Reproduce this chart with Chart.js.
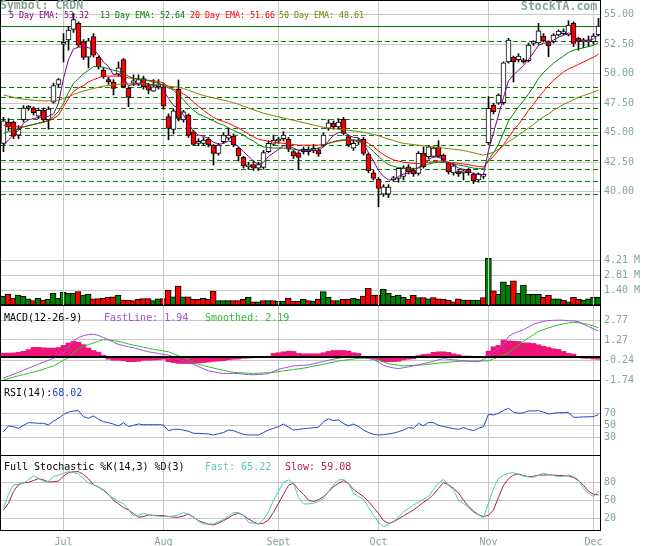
<!DOCTYPE html>
<html>
<head>
<meta charset="utf-8">
<title>CRDN</title>
<script src="https://cdn.jsdelivr.net/npm/chart.js"></script>
<style>
body { margin: 0; background: #fff; }
#wrap { position: relative; width: 655px; height: 546px; overflow: hidden; font-family: "DejaVu Sans Mono", monospace; }
#wrap canvas { position: absolute; left: 0; }
.ln { position: absolute; background: #000; z-index: 2; }
.t { position: absolute; white-space: pre; z-index: 3; font-size: 10px; line-height: 10px; }
</style>
</head>
<body>
<div id="wrap">
<canvas id="cVol" width="655" height="305" style="top:0"></canvas>
<canvas id="cPrice" width="655" height="305" style="top:0"></canvas>
<canvas id="cRsi" width="655" height="75" style="top:380px"></canvas>
<canvas id="cStoch" width="655" height="91" style="top:455px"></canvas>
<canvas id="cMacd" width="655" height="85" style="top:305px"></canvas>

<div class="ln" style="left:0;top:0;width:601px;height:1px"></div>
<div class="ln" style="left:0;top:0;width:1px;height:531px"></div>
<div class="ln" style="left:600px;top:0;width:1px;height:531px"></div>
<div class="ln" style="left:0;top:305px;width:601px;height:1px"></div>
<div class="ln" style="left:0;top:380px;width:601px;height:1px"></div>
<div class="ln" style="left:0;top:455px;width:601px;height:1px"></div>
<div class="ln" style="left:0;top:530px;width:601px;height:1px"></div>

<div class="t" style="left:0;top:-1px;font-size:11.5px;line-height:12px;font-weight:bold;color:#82a596">Symbol: CRDN</div>
<div class="t" style="left:521px;top:0;font-size:11.5px;line-height:12px;font-weight:bold;color:#82a596">StockTA.com</div>
<div class="t" style="left:9px;top:11px;font-size:8.3px;line-height:9px;color:#800080">5 Day EMA: 53.32</div>
<div class="t" style="left:100px;top:11px;font-size:8.3px;line-height:9px;color:#008000">13 Day EMA: 52.64</div>
<div class="t" style="left:190px;top:11px;font-size:8.3px;line-height:9px;color:#ff0000">20 Day EMA: 51.66</div>
<div class="t" style="left:279px;top:11px;font-size:8.3px;line-height:9px;color:#808000">50 Day EMA: 48.61</div>

<div class="t" style="left:4px;top:313px;color:#000">MACD(12-26-9)</div>
<div class="t" style="left:104px;top:313px;color:#a050e0">FastLine: 1.94</div>
<div class="t" style="left:205px;top:313px;color:#30c030">Smoothed: 2.19</div>
<div class="t" style="left:4px;top:388px;color:#000">RSI(14):<span style="color:#2046c8">68.02</span></div>
<div class="t" style="left:4px;top:462px;color:#000">Full Stochastic %K(14,3) %D(3)</div>
<div class="t" style="left:205px;top:462px;color:#55c8bb">Fast: 65.22</div>
<div class="t" style="left:285px;top:462px;color:#b01d55">Slow: 59.08</div>
</div>

<script>
// trading days, grouped by month
const monthNames = ['Jun', 'Jul', 'Aug', 'Sept', 'Oct', 'Nov', 'Dec'];
const monthDays = [12, 20, 23, 20, 22, 21, 2];

// daily prices
const opens = [44.1,45.9,45.9,44.8,46.1,47.1,47.1,46.4,46.9,46.1,
47.6,49.1,52.5,52.86,53.76,54.27,52.71,51.4,53.14,51.39,
50.31,49.5,49.3,49.97,51.2,48.76,49.2,49.1,49.6,49.0,
48.53,48.9,48.9,46.36,45.29,48.67,46.08,46.5,45.08,44.1,
44.1,44.44,43.96,43.25,44.24,44.55,44.72,43.68,42.92,42.1,
42.3,42.0,42.07,43.4,44.04,44.3,44.5,44.44,43.4,43.3,
43.39,43.4,43.5,43.53,43.96,45.37,45.8,45.5,46.14,44.67,
43.7,44.2,44.44,43.2,41.6,41.05,39.8,39.8,41.0,41.13,
41.3,42.12,41.84,41.56,43.25,42.97,43.0,43.8,43.1,42.4,
41.6,41.7,41.6,41.9,41.5,41.0,41.3,44.16,47.35,47.5,
47.54,51.0,51.39,51.2,51.1,51.1,52.57,52.62,53.2,52.71,
52.71,53.28,53.4,53.28,54.27,53.0,52.7,52.7,52.71,53.28];
const highs = [46.3,46.2,46.0,45.6,47.3,47.3,47.2,47.1,47.1,47.2,
49.2,49.6,53.4,54.0,55.1,54.4,52.9,53.0,53.4,51.5,
50.5,49.7,49.5,51.0,51.3,48.9,49.9,49.9,49.8,49.2,
49.5,49.5,49.2,46.6,47.0,49.47,46.9,46.6,45.2,44.5,
44.6,44.6,44.0,44.1,45.0,45.4,44.9,43.8,43.0,42.5,
42.6,42.5,43.5,44.3,44.8,44.6,45.1,44.6,43.5,43.4,
43.8,43.8,44.0,43.7,45.0,46.1,46.0,46.2,46.3,44.8,
44.4,44.5,44.6,43.3,41.8,41.2,40.6,40.6,41.3,41.8,
42.2,42.3,42.0,43.4,43.8,43.9,43.8,44.32,43.2,42.5,
42.4,41.9,41.9,42.0,41.6,41.6,41.5,48.05,47.5,48.3,
51.0,53.0,51.5,51.7,51.3,52.6,52.8,54.27,53.4,52.8,
53.4,53.7,53.8,54.5,54.4,53.1,53.0,53.2,53.4,54.7];
const lows = [43.4,45.2,44.5,44.5,45.9,46.9,46.5,46.2,45.9,45.3,
47.5,48.9,51.0,52.0,53.5,52.3,51.2,50.5,51.4,50.4,
49.6,49.1,48.2,49.8,48.8,47.2,49.0,49.0,48.7,48.3,
48.5,48.7,47.0,44.4,44.9,46.0,45.9,44.6,43.9,43.9,
43.9,43.8,42.26,43.1,44.1,44.4,43.8,42.6,42.0,41.9,
41.8,41.8,41.9,43.3,43.9,44.1,44.3,43.4,42.8,41.9,
43.2,43.1,43.3,43.0,43.8,45.2,45.3,45.3,44.8,43.8,
43.5,44.0,43.1,41.6,41.0,38.73,39.6,39.5,40.9,40.8,
41.0,41.5,41.3,41.4,42.0,42.8,42.9,42.9,42.5,41.5,
41.4,41.3,41.0,41.4,40.7,40.8,41.1,44.0,46.6,47.4,
47.4,50.9,49.3,51.0,50.9,51.0,52.4,52.5,52.7,51.44,
52.6,53.2,53.3,53.2,52.3,52.0,52.2,52.3,52.5,53.2];
const closes = [46.0,45.5,44.7,45.3,47.1,47.15,46.7,46.9,46.1,47.0,
49.0,49.5,52.65,53.7,54.6,52.43,51.39,52.8,51.58,50.59,
49.75,49.3,48.76,50.5,48.9,48.0,49.4,49.5,48.9,48.6,
48.9,49.0,47.26,45.37,46.86,46.22,46.78,44.8,44.02,44.2,
44.38,43.96,43.25,43.96,44.8,44.8,43.96,43.03,42.2,42.26,
42.0,42.3,43.31,44.1,44.38,44.44,44.8,43.6,43.03,42.9,
43.6,43.6,43.65,43.2,44.8,45.85,45.5,45.9,44.95,43.96,
44.1,44.4,43.25,41.78,41.13,40.29,40.42,40.4,41.13,41.98,
42.0,41.7,41.5,43.25,42.12,43.8,43.7,43.0,42.7,41.7,
42.2,41.5,41.75,41.6,40.93,41.5,41.35,47.07,46.78,48.2,
50.93,52.86,51.02,51.5,51.0,52.43,52.7,53.64,52.8,52.35,
53.28,53.62,53.55,54.13,52.57,52.75,52.8,52.75,53.2,54.04];

// volume in millions, and the colour of each volume bar (G up, R down)
const volumes = [0.85,1.0,0.63,0.94,0.85,0.57,0.41,0.63,0.47,0.53,
1.1,0.63,1.2,1.1,1.1,1.26,0.94,1.0,0.57,0.6,
0.63,0.72,0.78,0.91,0.47,0.47,0.41,0.53,0.6,0.6,
0.41,0.57,0.6,1.41,0.78,1.79,0.78,0.78,0.53,0.53,
0.63,0.53,1.32,0.41,0.41,0.41,0.41,0.41,0.53,0.72,
0.31,0.31,0.41,0.41,0.41,0.35,0.35,0.63,0.35,0.35,
0.53,0.41,0.35,0.53,1.26,0.72,0.41,0.41,0.53,0.53,
0.63,0.53,0.85,1.57,0.94,0.94,1.48,1.1,0.85,0.94,
0.72,0.53,0.9,0.69,0.69,0.59,0.69,0.59,0.53,0.44,
0.31,0.59,0.47,0.47,0.47,0.47,0.69,4.4,1.34,1.0,
2.18,1.87,2.28,1.09,1.84,1.0,1.0,1.0,0.72,0.9,
0.59,0.59,0.44,0.31,0.72,0.53,0.44,0.59,0.72,0.72];
const volDir = 'GRRGGGRGRGGGGGGRGGRRRRRGRRRRRRGGRRGRGRRRR' +
  'RRGGGRRRGRGRGRGGRRRGRGRGGRGRRGGRRRRGGGGG' +
  'RRGRGRRRRRRGRGGRGRGGGRGGGGGRRGGRGRRGGGG';

// moving averages
const ema5 = [43.9,44.4,44.8,45.2,45.8,46.1,46.2,46.3,46.3,46.4,
46.6,47.5,49.6,51.2,52.1,52.25,52.3,52.2,52.1,51.6,
51.0,50.6,49.9,50.0,49.6,49.0,49.1,49.2,49.3,49.1,
49.0,48.95,48.6,47.9,47.3,47.1,46.5,45.8,45.1,44.8,
44.7,44.5,44.2,44.0,44.1,44.3,44.2,43.8,43.4,43.0,
42.6,42.3,42.5,43.0,43.3,43.6,43.9,43.9,43.7,43.5,
43.5,43.5,43.5,43.5,43.8,44.3,44.8,45.0,45.1,44.8,
44.6,44.6,44.1,43.3,42.6,41.8,41.3,41.0,41.0,41.3,
41.5,41.6,41.6,42.1,42.2,42.7,43.0,42.9,42.8,42.4,
42.3,42.0,41.9,41.8,41.5,41.5,41.45,43.5,45.0,46.5,
48.0,49.4,49.9,50.3,50.7,51.2,51.8,52.4,52.6,52.6,
52.85,53.1,53.25,53.45,53.15,52.9,52.8,52.8,52.95,53.32];
const ema13 = [44.95,45.1,45.2,45.35,45.5,45.6,45.7,45.8,45.9,46.1,
46.35,46.8,47.5,48.4,49.2,49.6,50.0,50.3,50.6,50.6,
50.55,50.4,50.3,50.2,50.0,49.8,49.6,49.55,49.5,49.4,
49.3,49.2,49.0,48.8,48.6,48.2,47.8,47.3,46.9,46.6,
46.4,46.2,46.0,45.8,45.65,45.4,45.2,45.0,44.8,44.5,
44.3,44.0,43.8,43.75,43.7,43.7,43.7,43.65,43.6,43.55,
43.5,43.55,43.6,43.7,43.9,44.1,44.25,44.35,44.4,44.4,
44.4,44.3,44.1,43.8,43.4,43.0,42.6,42.3,42.15,42.05,
42.0,42.0,41.95,42.0,42.2,42.35,42.45,42.5,42.5,42.4,
42.35,42.25,42.2,42.1,42.0,41.95,41.95,42.7,43.3,44.0,
45.0,46.0,46.6,47.2,47.7,48.3,48.9,49.6,50.1,50.5,
50.9,51.2,51.5,51.8,52.0,52.1,52.2,52.3,52.4,52.64];
const ema20 = [45.6,45.55,45.5,45.5,45.5,45.6,45.7,45.8,45.9,46.0,
46.2,46.5,47.2,47.9,48.5,48.8,49.0,49.3,49.5,49.65,
49.8,49.8,49.8,49.8,49.75,49.65,49.6,49.55,49.5,49.45,
49.4,49.35,49.2,48.9,48.7,48.5,48.3,48.0,47.6,47.25,
46.9,46.6,46.3,46.1,45.95,45.8,45.6,45.4,45.15,44.9,
44.65,44.45,44.35,44.3,44.2,44.15,44.1,44.05,44.0,43.95,
43.95,43.95,43.95,43.95,44.0,44.1,44.2,44.3,44.35,44.35,
44.35,44.35,44.3,44.1,43.8,43.45,43.15,42.9,42.7,42.6,
42.5,42.45,42.4,42.4,42.45,42.5,42.55,42.6,42.6,42.5,
42.45,42.4,42.35,42.3,42.2,42.15,42.1,42.6,43.0,43.5,
44.0,44.6,45.2,45.7,46.3,46.9,47.4,48.0,48.5,49.0,
49.45,49.8,50.15,50.4,50.6,50.8,51.0,51.2,51.4,51.66];
const ema50 = [48.2,48.1,48.0,47.9,47.85,47.8,47.75,47.72,47.7,47.7,
47.7,47.75,47.9,48.05,48.25,48.4,48.55,48.65,48.75,48.85,
48.95,49.0,49.05,49.1,49.15,49.15,49.15,49.15,49.15,49.1,
49.1,49.1,49.05,48.95,48.9,48.85,48.75,48.6,48.45,48.3,
48.15,48.05,47.95,47.85,47.75,47.65,47.55,47.4,47.25,47.1,
46.95,46.8,46.65,46.55,46.45,46.35,46.25,46.15,46.05,45.95,
45.85,45.75,45.65,45.55,45.45,45.4,45.35,45.3,45.25,45.2,
45.15,45.1,45.05,44.95,44.85,44.75,44.6,44.45,44.35,44.2,
44.1,44.05,44.0,43.95,43.9,43.85,43.8,43.75,43.7,43.65,
43.6,43.55,43.5,43.4,43.3,43.2,43.1,43.2,43.35,43.6,
43.9,44.25,44.5,44.8,45.1,45.4,45.7,46.05,46.35,46.6,
46.9,47.15,47.4,47.6,47.8,48.0,48.15,48.3,48.45,48.61];

// MACD(12-26-9)
const macdFast = [-1.59,-1.45,-1.3,-1.17,-1.0,-0.85,-0.7,-0.55,-0.4,-0.26,
-0.1,0.06,0.35,0.7,1.2,1.45,1.59,1.68,1.71,1.61,
1.45,1.3,1.1,0.93,0.85,0.76,0.68,0.58,0.48,0.38,
0.32,0.25,0.18,0.13,-0.03,-0.19,-0.32,-0.45,-0.56,-0.72,
-0.9,-1.05,-1.12,-1.2,-1.25,-1.25,-1.24,-1.25,-1.3,-1.33,
-1.35,-1.33,-1.3,-1.25,-1.1,-0.93,-0.85,-0.76,-0.68,-0.65,
-0.63,-0.61,-0.52,-0.43,-0.35,-0.26,-0.18,-0.1,-0.02,0.02,
0.05,0.06,0.0,-0.1,-0.19,-0.4,-0.63,-0.75,-0.83,-0.88,
-0.82,-0.75,-0.67,-0.6,-0.5,-0.43,-0.33,-0.22,-0.14,-0.18,
-0.22,-0.26,-0.3,-0.33,-0.35,-0.36,-0.2,0.06,0.35,0.65,
0.93,1.54,1.75,1.9,2.04,2.25,2.46,2.58,2.67,2.73,
2.75,2.76,2.75,2.72,2.7,2.65,2.45,2.28,2.1,1.94];
const macdSmooth = [-1.74,-1.63,-1.52,-1.42,-1.33,-1.24,-1.14,-1.05,-0.93,-0.8,
-0.68,-0.48,-0.27,-0.06,0.3,0.63,0.78,0.92,1.05,1.18,
1.3,1.27,1.22,1.17,1.07,0.97,0.88,0.8,0.72,0.63,
0.57,0.5,0.44,0.38,0.23,0.08,-0.06,-0.23,-0.4,-0.56,
-0.65,-0.75,-0.84,-0.93,-1.01,-1.09,-1.17,-1.19,-1.21,-1.23,
-1.25,-1.23,-1.21,-1.19,-1.17,-1.11,-1.05,-1.0,-0.95,-0.9,
-0.85,-0.78,-0.7,-0.63,-0.56,-0.48,-0.4,-0.31,-0.26,-0.21,
-0.16,-0.11,-0.1,-0.1,-0.11,-0.25,-0.38,-0.51,-0.57,-0.63,
-0.68,-0.66,-0.64,-0.62,-0.61,-0.56,-0.52,-0.47,-0.43,-0.4,
-0.37,-0.34,-0.31,-0.31,-0.31,-0.31,-0.31,-0.3,-0.15,0.0,
0.15,0.31,0.6,0.9,1.17,1.42,1.67,1.91,2.05,2.18,
2.3,2.4,2.48,2.55,2.6,2.56,2.5,2.44,2.32,2.19];
const macdHist = [0.28,0.28,0.3,0.35,0.42,0.55,0.72,0.72,0.68,0.66,
0.66,0.7,0.86,1.05,1.17,1.1,0.92,0.66,0.48,0.36,
0.12,-0.18,-0.26,-0.26,-0.29,-0.36,-0.36,-0.34,-0.26,-0.26,
-0.24,-0.22,-0.18,-0.36,-0.43,-0.49,-0.5,-0.5,-0.5,-0.46,
-0.43,-0.39,-0.34,-0.31,-0.29,-0.22,-0.18,-0.16,-0.11,-0.09,
-0.07,-0.05,-0.03,-0.02,0.26,0.31,0.38,0.43,0.41,0.26,
0.23,0.23,0.23,0.23,0.31,0.41,0.48,0.48,0.48,0.44,
0.31,0.26,0.04,-0.14,-0.18,-0.24,-0.36,-0.36,-0.36,-0.34,
-0.24,-0.18,-0.14,0.1,0.18,0.21,0.34,0.38,0.38,0.34,
0.23,0.16,0.06,0.06,-0.02,-0.03,-0.03,0.43,0.76,0.86,
1.26,1.21,1.18,1.16,1.06,1.05,1.01,0.91,0.8,0.71,
0.61,0.56,0.41,0.26,0.21,-0.05,-0.11,-0.11,-0.16,-0.18];

// RSI(14)
const rsi = [39.4,49,47.8,45,50,54.4,54,53.3,53.3,50.6,
57,61.7,68,72,73.9,74.4,64.4,61.7,65.6,60,
56,54.4,52,49,54.4,47.8,50,52.2,51,51,
51,51,50.5,41,43.3,43.3,42,40,36.7,36.5,
36,35.6,33.9,36,37.8,42.2,41,37.8,35,33.9,
33.9,33.9,38,42.2,45,47.8,52.2,47,42.2,43,
44.5,45,46,46.7,56,60.6,57.8,58.9,53,48.9,
52.2,48,42.2,38,35,33.9,34.5,35.6,37,39.4,
42,46.1,45,53.3,49,55,54.4,50,48,46.1,
44.5,43.3,46.1,43,41.1,45,47.8,68.3,67.2,70,
75,78.3,72,70,71,73.9,74,74.4,72,68.9,
70,71.1,71,71.7,63.3,63.5,64,64.2,64.4,68.02];

// Full Stochastic %K(14,3) %D(3)
const stochFast = [36.7,60,75.6,77,78.3,85,90.6,87,81,82,
89.4,92,95,97.8,96,93.9,86,79,76,72,
66,59,53.3,48,44,35,24,25,28.3,26,
24.5,23.5,23,22.8,24,26,29.4,26,22.8,15,
10.6,10.6,10.6,14,18,24,29.4,29.4,25,13,
11.7,10.6,18,31.1,50,65,80,83.9,78.3,55,
43.9,44,45,48,53.3,65,75.6,84,85,78.3,
62,56.1,51.7,38,25.6,13,6.1,10,14.4,22,
31.1,36,42.2,47,52,56.1,68,78,85,75,
67.2,50,45,38,30,25.6,21.1,45,70,86.7,
92,95,96.1,93,90.6,89,88.3,92,95,93,
91,89.4,90,92.2,90,83.9,70,61.7,56.1,65.22];
const stochSlow = [33.9,45,65,76,79,80,83,86.1,84,80.6,
81,82.2,90,96.1,97.5,97.8,93,86,76,72,
67.2,60,50,44,38,34,28,21.7,23,25.6,
25,24.5,24.4,23,22,21.7,24,27.2,22,16,
13,10,8.9,12,16,21,26,28.3,25,19,
14,10.6,12,17.2,30,45,60,75,78.3,68,
60,50,47.8,51,56,64,72.8,78,82.8,78,
68,62,56.1,48,38,28,16,11.7,14,19,
24,29,34,40,47,52,60,70,79.4,76,
70,62,50,40,32,26,22.8,25,33.9,55,
75,86,92,93.9,91,89.4,90,92,92.2,92.2,
92,91.5,91,90.6,88,83,75,65,60,59.08];

// axis ticks and horizontal levels
const priceTicks = [40, 42.5, 45, 47.5, 50, 52.5, 55];
const volTicks = [1.40, 2.81, 4.21];
const levelLines = [52.75, 48.87, 48.0, 47.07, 46.08, 45.4, 44.78, 43.96, 42.64, 41.9, 40.85, 39.78];
const topLevel = [54.04];
const macdTicks = [-1.74, -0.24, 1.27, 2.77];
const rsiTicks = [30, 50, 70];
const stochTicks = [20, 50, 80];

const GRID = '#c8c8c8';
const TICK = '#82a596';
const FONT = { family: 'DejaVu Sans Mono', size: 10 };

const labels = [];
const monthStarts = {};
monthNames.forEach((m, i) => {
  for (let d = 0; d < monthDays[i]; d++) {
    if (d === 0 && i > 0) monthStarts[labels.length] = m;
    labels.push(m + ' ' + (d + 1));
  }
});

function xAxis(showLabels, noGrid) {
  return {
    type: 'category',
    offset: true,
    border: { display: false },
    grid: {
      display: !noGrid,
      offset: false,
      drawTicks: false,
      lineWidth: 1,
      color: c => monthStarts[c.index] ? GRID : 'rgba(0,0,0,0)'
    },
    ticks: {
      display: showLabels, autoSkip: false, maxRotation: 0, minRotation: 0,
      padding: 6, color: TICK, font: FONT,
      callback: (v, i) => monthStarts[i] || ''
    },
    afterFit: s => {
      s.height = showLabels ? 16 : 0;
      s.paddingLeft = 0; s.paddingRight = 0;
    }
  };
}

function yAxis(min, max, values, o) {
  o = o || {};
  return {
    type: 'linear', position: 'right', min: min, max: max,
    weight: o.weight || 0,
    border: { display: false, dash: o.dash || [] },
    grid: { drawTicks: false, color: o.color || GRID, lineWidth: o.lineWidth || 1, z: o.z || 0 },
    ticks: { display: !!o.fmt, padding: 3, color: TICK, font: FONT,
      callback: v => o.fmt ? o.fmt(v) : '' },
    afterBuildTicks: s => { s.ticks = values.map(v => ({ value: v })); },
    afterFit: s => {
      s.width = o.width || 0;
      s.paddingTop = 0; s.paddingBottom = 0;
    }
  };
}

function base(bottom, left) {
  return {
    responsive: false,
    animation: false,
    events: [],
    layout: { padding: { left: left === undefined ? 1 : left, right: 0, top: 0, bottom: bottom || 0 } },
    plugins: { legend: { display: false }, tooltip: { enabled: false } }
  };
}

function line(data, color, order) {
  return { type: 'line', data: data, borderColor: color, borderWidth: 1,
    pointRadius: 0, fill: false, tension: 0, order: order };
}

const P_MIN = 30.4, P_MAX = 56.25;

// volume sits under the price panel, on its own canvas with its own labelled axis
new Chart(document.getElementById('cVol'), {
  type: 'bar',
  data: {
    labels: labels,
    datasets: [{
      data: volumes,
      backgroundColor: c => volDir[c.dataIndex] === 'G' ? '#008000' : '#ff0000',
      borderColor: '#000', borderWidth: 1, borderSkipped: false,
      barThickness: 6
    }]
  },
  options: Object.assign(base(0, 0.5), {
    scales: {
      x: xAxis(false, true),
      y: yAxis(0, 28.7, volTicks, { fmt: v => v.toFixed(2) + ' M', width: 54 })
    }
  })
});

new Chart(document.getElementById('cPrice'), {
  type: 'bar',
  data: {
    labels: labels,
    datasets: [
      line(ema5, '#800080', 0),
      line(ema13, '#008000', 1),
      line(ema20, '#ff0000', 2),
      line(ema50, '#808000', 3),
      {
        type: 'bar', data: opens.map((o, i) => [o, closes[i]]),
        backgroundColor: c => closes[c.dataIndex] >= opens[c.dataIndex] ? '#ffffff' : '#ff0000',
        borderColor: '#000', borderWidth: 1, borderSkipped: false,
        barThickness: 5, minBarLength: 2, grouped: false, order: 5
      },
      {
        type: 'bar', data: lows.map((l, i) => [l, highs[i]]),
        backgroundColor: '#000', barThickness: 1, grouped: false, order: 6
      }
    ]
  },
  options: Object.assign(base(), {
    scales: {
      x: xAxis(false),
      y: yAxis(P_MIN, P_MAX, priceTicks, { fmt: v => v.toFixed(2), width: 54, weight: 3 }),
      yl: yAxis(P_MIN, P_MAX, levelLines, { color: '#008000', dash: [5, 3], weight: 1 }),
      ys: yAxis(P_MIN, P_MAX, topLevel, { color: '#008000', weight: 2 })
    }
  })
});

new Chart(document.getElementById('cMacd'), {
  type: 'bar',
  data: {
    labels: labels,
    datasets: [
      line(macdFast, '#a050e0', 0),
      line(macdSmooth, '#22c422', 1),
      { type: 'bar', data: macdHist, backgroundColor: '#f0147a',
        barPercentage: 1, categoryPercentage: 1, order: 2 }
    ]
  },
  options: Object.assign(base(10), {
    scales: {
      x: xAxis(false),
      y: yAxis(-1.74, 3.9, macdTicks, { fmt: v => v.toFixed(2), width: 54, weight: 1 }),
      yz: yAxis(-1.74, 3.9, [0], { color: '#000', lineWidth: 2, z: 1 })
    }
  })
});

new Chart(document.getElementById('cRsi'), {
  type: 'line',
  data: { labels: labels, datasets: [line(rsi, '#2046c8', 0)] },
  options: Object.assign(base(), {
    scales: {
      x: xAxis(false),
      y: yAxis(0.5, 125.5, rsiTicks, { fmt: v => String(v), width: 54 })
    }
  })
});

new Chart(document.getElementById('cStoch'), {
  type: 'line',
  data: {
    labels: labels,
    datasets: [line(stochSlow, '#b0174e', 1), line(stochFast, '#4cc8bc', 0)]
  },
  options: Object.assign(base(), {
    scales: {
      x: xAxis(true),
      y: yAxis(0.5, 125.5, stochTicks, { fmt: v => String(v), width: 54 })
    }
  })
});
</script>
</body>
</html>
